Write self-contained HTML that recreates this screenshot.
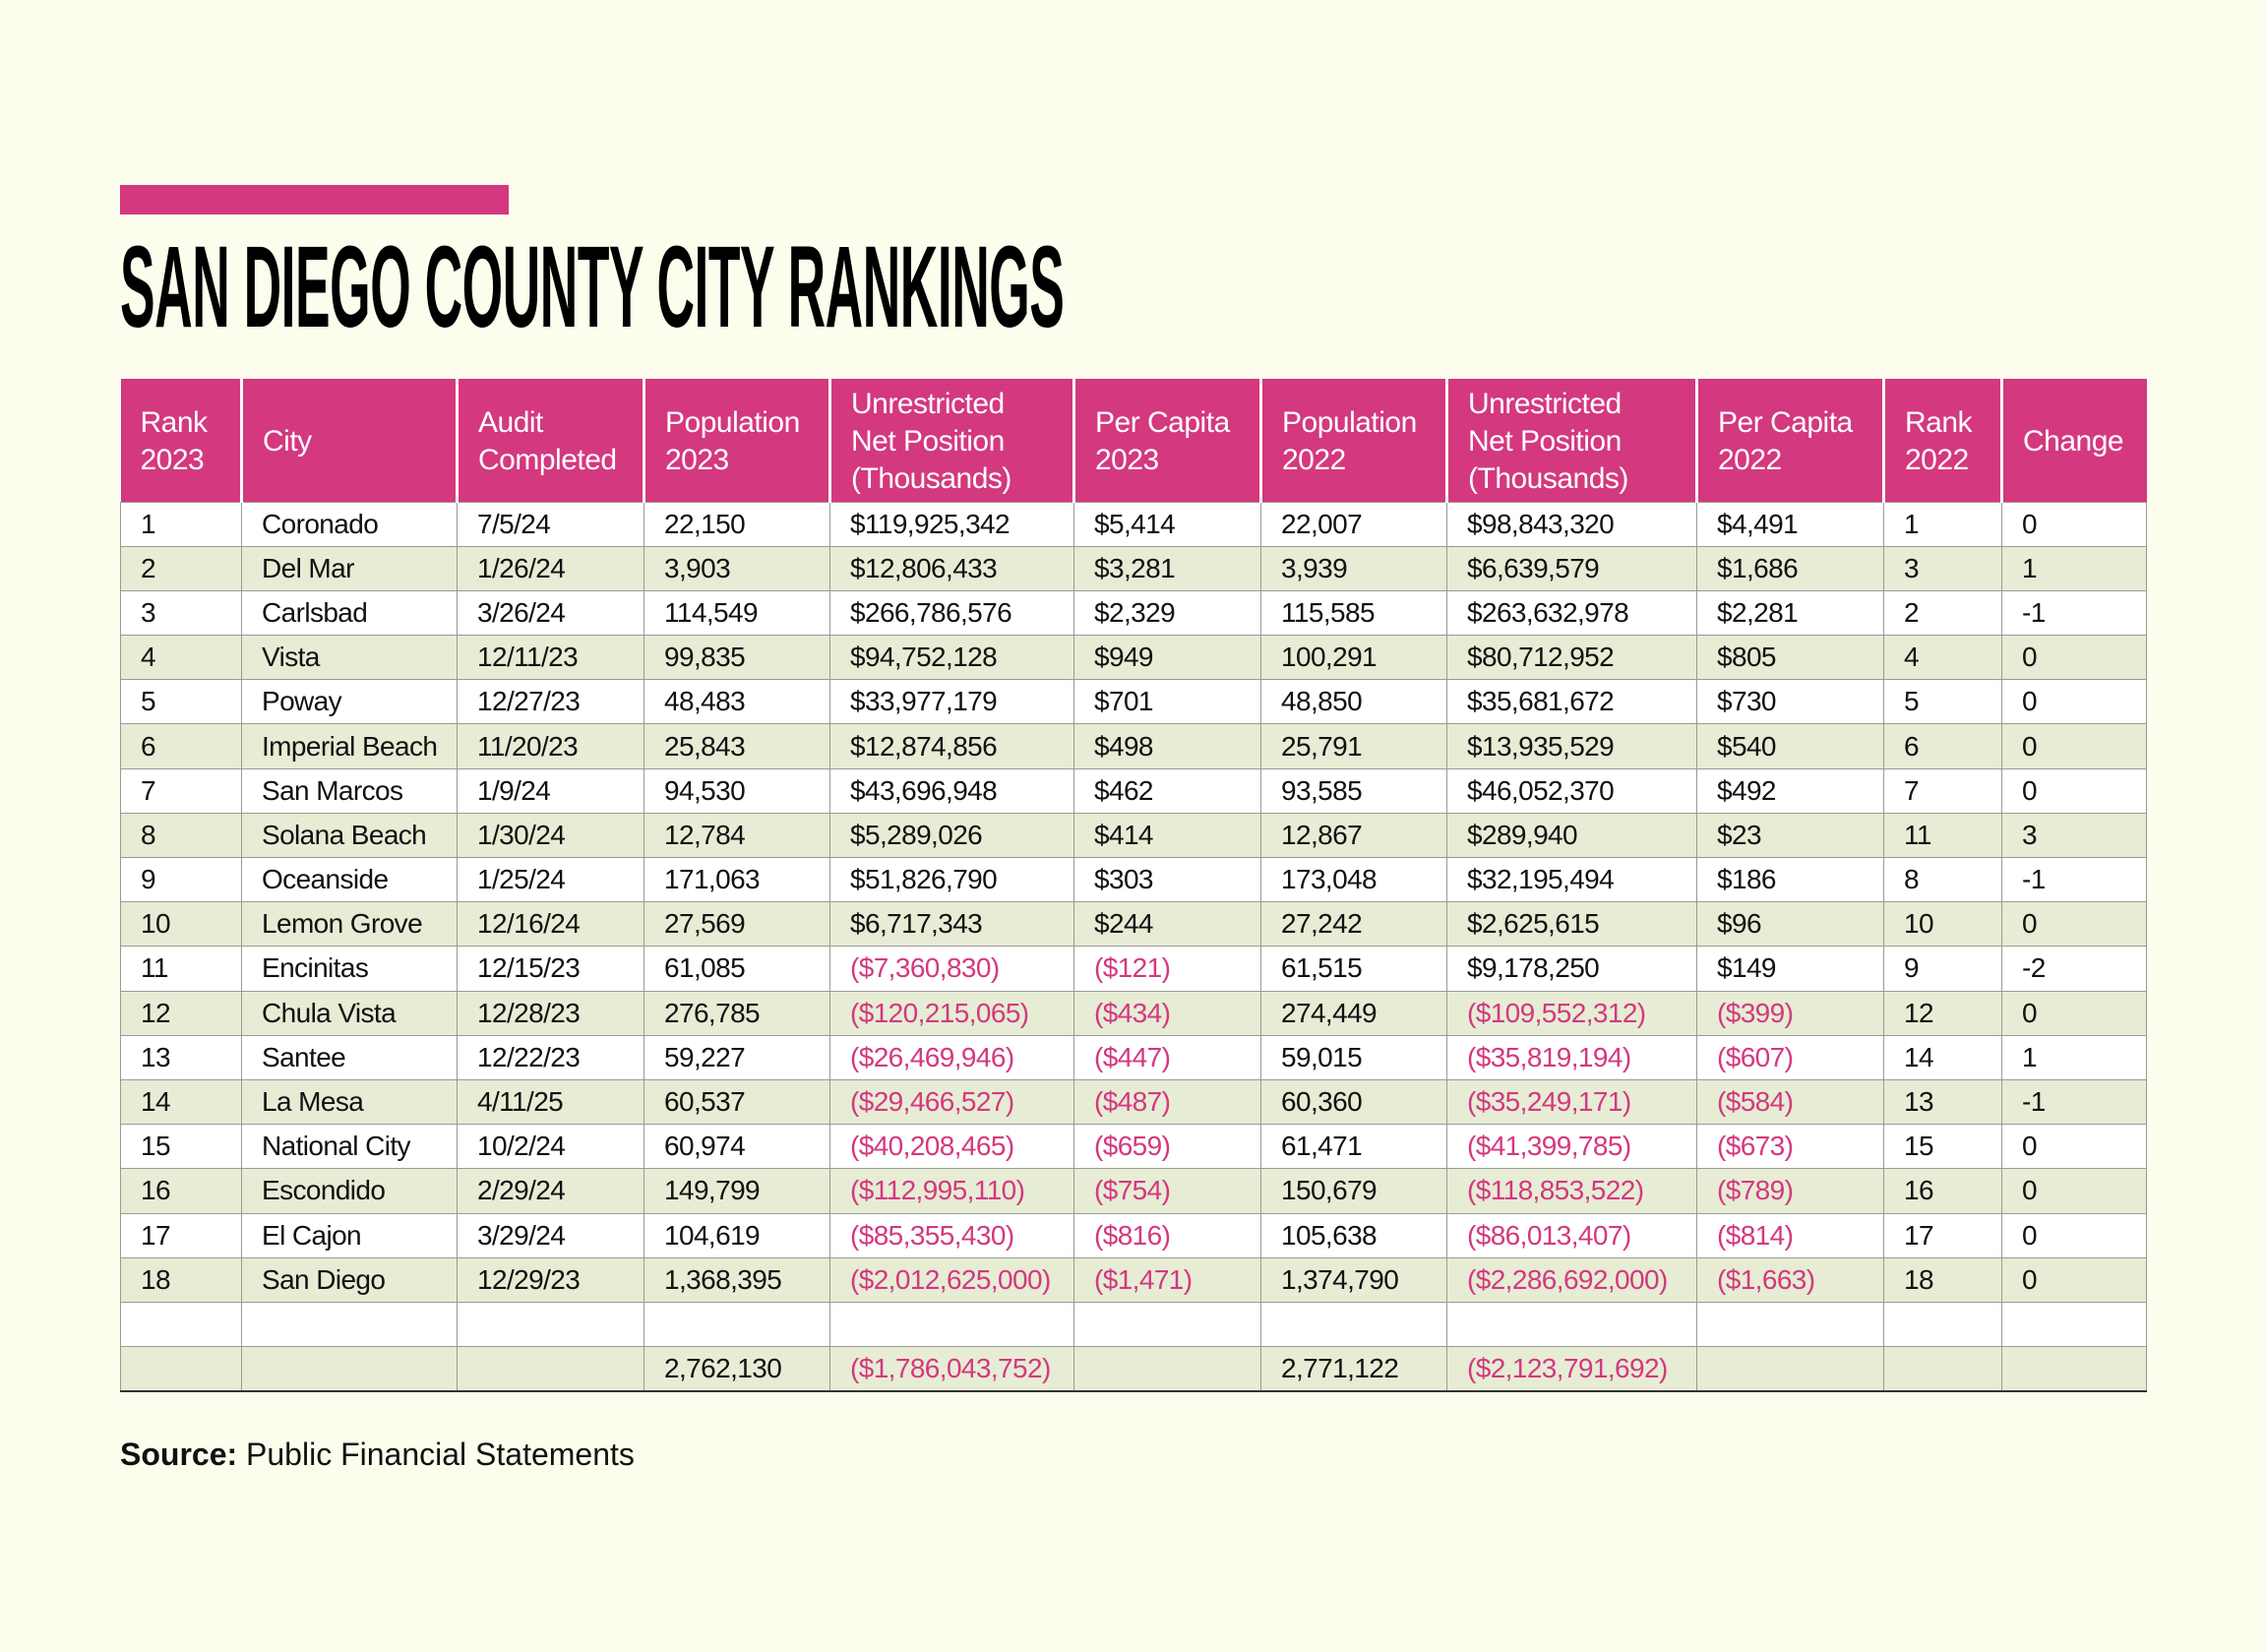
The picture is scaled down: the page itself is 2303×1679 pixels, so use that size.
<!DOCTYPE html>
<html><head><meta charset="utf-8"><style>
body{margin:0;width:2303px;height:1679px;background:#fcfdec;position:relative;overflow:hidden;font-family:"Liberation Sans",sans-serif;}
.bar{position:absolute;left:122px;top:188px;width:395px;height:30px;background:#d4387f;}
.title{position:absolute;left:122px;top:232px;font-weight:bold;font-size:118px;line-height:120px;color:#000;transform:scaleX(0.452);transform-origin:0 0;white-space:nowrap;letter-spacing:-1px;}
table{position:absolute;left:122px;top:385px;border-collapse:collapse;table-layout:fixed;width:2059px;}
th{background:#d4387f;color:#fff;font-weight:normal;text-align:left;font-size:30px;line-height:38px;height:125px;padding:4px 0 0 20px;box-sizing:border-box;border-left:3px solid #fff;vertical-align:middle;letter-spacing:-0.5px;}
th:first-child{border-left:none;}
td{height:44.2px;padding:0 0 0 20px;font-size:28px;border:1.5px solid #9a9a94;white-space:nowrap;letter-spacing:-0.6px;color:#111;}
tr:nth-child(odd) td{background:#fff;}
tr:nth-child(even) td{background:#e7ecd5;}
tr:last-child td{border-bottom:2px solid #333;}
.n{color:#d4387f;}
.src{position:absolute;left:122px;top:1460px;font-size:32px;color:#111;}
</style></head><body>
<div class="bar"></div>
<div class="title">SAN DIEGO COUNTY CITY RANKINGS</div>
<table>
<colgroup><col style="width:123px"><col style="width:219px"><col style="width:190px"><col style="width:189px"><col style="width:248px"><col style="width:190px"><col style="width:189px"><col style="width:254px"><col style="width:190px"><col style="width:120px"><col style="width:147px"></colgroup>
<thead><tr><th>Rank<br>2023</th><th>City</th><th>Audit<br>Completed</th><th>Population<br>2023</th><th>Unrestricted<br>Net Position<br>(Thousands)</th><th>Per Capita<br>2023</th><th>Population<br>2022</th><th>Unrestricted<br>Net Position<br>(Thousands)</th><th>Per Capita<br>2022</th><th>Rank<br>2022</th><th>Change</th></tr></thead>
<tbody>
<tr><td>1</td><td>Coronado</td><td>7/5/24</td><td>22,150</td><td>$119,925,342</td><td>$5,414</td><td>22,007</td><td>$98,843,320</td><td>$4,491</td><td>1</td><td>0</td></tr>
<tr><td>2</td><td>Del Mar</td><td>1/26/24</td><td>3,903</td><td>$12,806,433</td><td>$3,281</td><td>3,939</td><td>$6,639,579</td><td>$1,686</td><td>3</td><td>1</td></tr>
<tr><td>3</td><td>Carlsbad</td><td>3/26/24</td><td>114,549</td><td>$266,786,576</td><td>$2,329</td><td>115,585</td><td>$263,632,978</td><td>$2,281</td><td>2</td><td>-1</td></tr>
<tr><td>4</td><td>Vista</td><td>12/11/23</td><td>99,835</td><td>$94,752,128</td><td>$949</td><td>100,291</td><td>$80,712,952</td><td>$805</td><td>4</td><td>0</td></tr>
<tr><td>5</td><td>Poway</td><td>12/27/23</td><td>48,483</td><td>$33,977,179</td><td>$701</td><td>48,850</td><td>$35,681,672</td><td>$730</td><td>5</td><td>0</td></tr>
<tr><td>6</td><td>Imperial Beach</td><td>11/20/23</td><td>25,843</td><td>$12,874,856</td><td>$498</td><td>25,791</td><td>$13,935,529</td><td>$540</td><td>6</td><td>0</td></tr>
<tr><td>7</td><td>San Marcos</td><td>1/9/24</td><td>94,530</td><td>$43,696,948</td><td>$462</td><td>93,585</td><td>$46,052,370</td><td>$492</td><td>7</td><td>0</td></tr>
<tr><td>8</td><td>Solana Beach</td><td>1/30/24</td><td>12,784</td><td>$5,289,026</td><td>$414</td><td>12,867</td><td>$289,940</td><td>$23</td><td>11</td><td>3</td></tr>
<tr><td>9</td><td>Oceanside</td><td>1/25/24</td><td>171,063</td><td>$51,826,790</td><td>$303</td><td>173,048</td><td>$32,195,494</td><td>$186</td><td>8</td><td>-1</td></tr>
<tr><td>10</td><td>Lemon Grove</td><td>12/16/24</td><td>27,569</td><td>$6,717,343</td><td>$244</td><td>27,242</td><td>$2,625,615</td><td>$96</td><td>10</td><td>0</td></tr>
<tr><td>11</td><td>Encinitas</td><td>12/15/23</td><td>61,085</td><td class="n">($7,360,830)</td><td class="n">($121)</td><td>61,515</td><td>$9,178,250</td><td>$149</td><td>9</td><td>-2</td></tr>
<tr><td>12</td><td>Chula Vista</td><td>12/28/23</td><td>276,785</td><td class="n">($120,215,065)</td><td class="n">($434)</td><td>274,449</td><td class="n">($109,552,312)</td><td class="n">($399)</td><td>12</td><td>0</td></tr>
<tr><td>13</td><td>Santee</td><td>12/22/23</td><td>59,227</td><td class="n">($26,469,946)</td><td class="n">($447)</td><td>59,015</td><td class="n">($35,819,194)</td><td class="n">($607)</td><td>14</td><td>1</td></tr>
<tr><td>14</td><td>La Mesa</td><td>4/11/25</td><td>60,537</td><td class="n">($29,466,527)</td><td class="n">($487)</td><td>60,360</td><td class="n">($35,249,171)</td><td class="n">($584)</td><td>13</td><td>-1</td></tr>
<tr><td>15</td><td>National City</td><td>10/2/24</td><td>60,974</td><td class="n">($40,208,465)</td><td class="n">($659)</td><td>61,471</td><td class="n">($41,399,785)</td><td class="n">($673)</td><td>15</td><td>0</td></tr>
<tr><td>16</td><td>Escondido</td><td>2/29/24</td><td>149,799</td><td class="n">($112,995,110)</td><td class="n">($754)</td><td>150,679</td><td class="n">($118,853,522)</td><td class="n">($789)</td><td>16</td><td>0</td></tr>
<tr><td>17</td><td>El Cajon</td><td>3/29/24</td><td>104,619</td><td class="n">($85,355,430)</td><td class="n">($816)</td><td>105,638</td><td class="n">($86,013,407)</td><td class="n">($814)</td><td>17</td><td>0</td></tr>
<tr><td>18</td><td>San Diego</td><td>12/29/23</td><td>1,368,395</td><td class="n">($2,012,625,000)</td><td class="n">($1,471)</td><td>1,374,790</td><td class="n">($2,286,692,000)</td><td class="n">($1,663)</td><td>18</td><td>0</td></tr>
<tr><td></td><td></td><td></td><td></td><td></td><td></td><td></td><td></td><td></td><td></td><td></td></tr>
<tr><td></td><td></td><td></td><td>2,762,130</td><td class="n">($1,786,043,752)</td><td></td><td>2,771,122</td><td class="n">($2,123,791,692)</td><td></td><td></td><td></td></tr>
</tbody></table>
<div class="src"><b>Source:</b> Public Financial Statements</div>
</body></html>
